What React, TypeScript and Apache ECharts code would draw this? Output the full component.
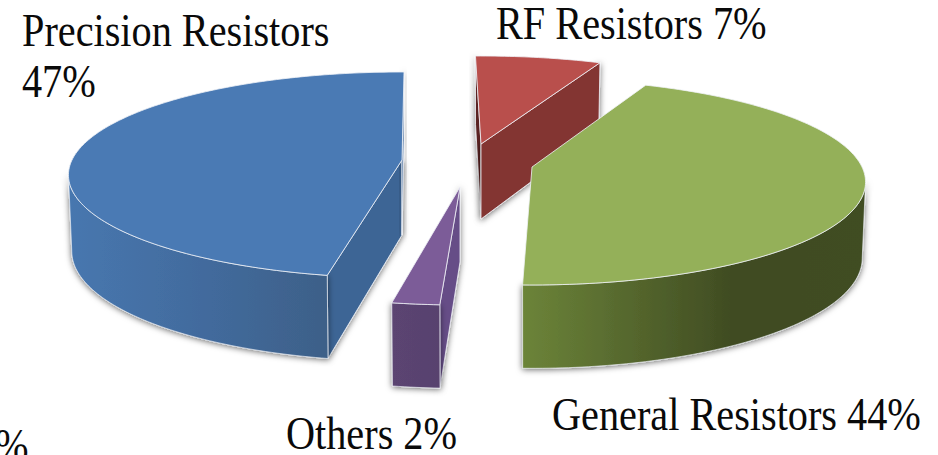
import React, { useEffect, useRef } from "react";
import * as echarts from "echarts";

// Data
const names = ["RF Resistors", "General Resistors", "Others", "Precision Resistors"];
const percents = [7, 44, 2, 47];

// Layout of the exploded slices (top-face apex in pixels, start angle in degrees clockwise from the back)
const apexes = [
  [481, 144],
  [532, 167],
  [460, 187],
  [402, 160],
];
const startAngles = [-1.1, 23.0, 183.0, 191.2];

// Perspective of the disc
const PERSP = 0.1456;
const RX = 330;
const RY = 100.8;
const DEPTH = 75;
const DEPTH_PERSP = 0.1;
const BOTTOM_SCALE = 0.99;
// Where the silhouette of the disc turns from the back half to the front half
const WALL_FROM = (Math.acos(-PERSP) * 180) / Math.PI;
const WALL_TO = 360 - WALL_FROM;

const topColors = ["#b94f4c", "#94b059", "#7c5c98", "#4a7ab4"];
const faceEndColors = ["#833533", "#5f7a33", "#59436f", "#3d6595"];
const faceStartColors = ["#5a2320", "#5f7a33", "#664e87", "#3d6595"];
const wallStops: [number, string][][] = [
  [[0, "#7c3230"], [1, "#853634"]],
  [[0, "#6c8439"], [0.62, "#3f4b22"], [1, "#404d24"]],
  [[0, "#5b4472"], [1, "#58426e"]],
  [[0, "#4777af"], [0.55, "#426a9c"], [1, "#3d6088"]],
];
const EDGE = "rgba(240,243,248,0.8)";
const FONT = "'Liberation Serif', 'Times New Roman', serif";

const labelLines = [
  { text: `${names[3]}`, x: 22, y: 45 },
  { text: `${percents[3]}%`, x: 22, y: 96 },
  { text: `${names[0]} ${percents[0]}%`, x: 496, y: 38 },
  { text: `${names[1]} ${percents[1]}%`, x: 552, y: 429 },
  { text: `${names[2]} ${percents[2]}%`, x: 286, y: 448 },
  { text: "%", x: -5, y: 460 },
];

function topPoint(apex: number[], deg: number): number[] {
  const t = (deg * Math.PI) / 180;
  const X = Math.sin(t);
  const Y = Math.cos(t);
  const d = 1 + PERSP * Y;
  return [apex[0] + (RX * X) / d, apex[1] - (RY * Y) / d];
}

function bottomPoint(apex: number[], deg: number): number[] {
  const t = (deg * Math.PI) / 180;
  const X = Math.sin(t);
  const Y = Math.cos(t);
  const d = 1 + PERSP * Y;
  return [
    apex[0] + (BOTTOM_SCALE * RX * X) / d,
    apex[1] - (RY * Y) / d + DEPTH / (1 + DEPTH_PERSP * Y),
  ];
}

function sweep(fn: (a: number) => number[], from: number, to: number): number[][] {
  const n = Math.max(2, Math.ceil(to - from));
  const out: number[][] = [];
  for (let s = 0; s <= n; s++) out.push(fn(from + ((to - from) * s) / n));
  return out;
}

function renderSlice(params: any, api: any) {
  const i = params.dataIndex;
  const value = api.value(0);
  const apex = apexes[i];
  const a0 = startAngles[i];
  const a1 = a0 + value * 3.6;
  const top = sweep((a) => topPoint(apex, a), a0, a1);
  const apexBottom = [apex[0], apex[1] + DEPTH];
  const shadow = { shadowBlur: 6, shadowColor: "rgba(0,0,0,0.6)", shadowOffsetX: 0, shadowOffsetY: 1 };
  const poly = (points: number[][], style: any) => ({
    type: "polygon",
    shape: { points },
    style,
    silent: true,
  });
  const children: any[] = [];
  // A cut face is drawn only when it turns towards the viewer
  if (Math.sin((a0 * Math.PI) / 180) < 0) {
    children.push(
      poly([apex, topPoint(apex, a0), bottomPoint(apex, a0), apexBottom], {
        fill: faceStartColors[i],
        stroke: EDGE,
        lineWidth: 1,
        ...shadow,
      })
    );
  }
  if (Math.sin((a1 * Math.PI) / 180) > 0) {
    children.push(
      poly([apex, topPoint(apex, a1), bottomPoint(apex, a1), apexBottom], {
        fill: faceEndColors[i],
        stroke: EDGE,
        lineWidth: 1,
        ...shadow,
      })
    );
  }
  const wallFrom = Math.max(a0, WALL_FROM);
  const wallTo = Math.min(a1, WALL_TO);
  if (wallTo > wallFrom) {
    const wallTop = sweep((a) => topPoint(apex, a), wallFrom, wallTo);
    const wallBottom = sweep((a) => bottomPoint(apex, a), wallFrom, wallTo);
    children.push(
      poly([...wallTop, ...wallBottom.reverse()], {
        fill: new echarts.graphic.LinearGradient(
          0,
          0,
          1,
          0,
          wallStops[i].map(([offset, color]) => ({ offset, color }))
        ),
        stroke: EDGE,
        lineWidth: 0.8,
        ...shadow,
      })
    );
  }
  children.push(
    poly([apex, ...top], {
      fill: topColors[i],
      stroke: EDGE,
      lineWidth: 1,
    })
  );
  return { type: "group", children };
}

export default function App() {
  const ref = useRef<HTMLDivElement>(null);
  useEffect(() => {
    document.body.style.margin = "0";
    const chart = echarts.init(ref.current!, undefined, { renderer: "svg" });
    chart.setOption({
      animation: false,
      backgroundColor: "#ffffff",
      tooltip: { show: false },
      series: [
        {
          type: "custom",
          coordinateSystem: "none",
          silent: true,
          renderItem: renderSlice,
          data: percents,
        },
      ],
      graphic: labelLines.map((l) => ({
        type: "text",
        x: l.x,
        y: l.y - 15,
        scaleX: 0.875,
        silent: true,
        style: {
          text: l.text,
          fill: "#0a0a0a",
          font: `46px ${FONT}`,
          lineHeight: 34,
          textAlign: "left",
          textVerticalAlign: "middle",
        },
      })),
    });
    return () => chart.dispose();
  }, []);
  return <div ref={ref} style={{ width: 938, height: 455, overflow: "hidden" }} />;
}
